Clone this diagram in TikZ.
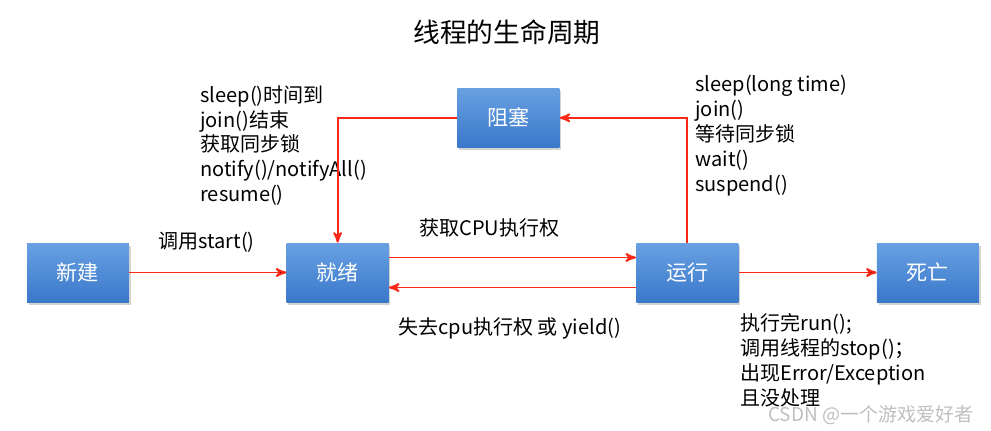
\documentclass[tikz,border=0pt]{standalone}
\usepackage{fontspec}
\setmainfont{Noto Sans CJK SC}
\usepackage{tikz}
\usetikzlibrary{arrows,shadows,positioning}
\definecolor{boxtop}{RGB}{104,160,226}
\definecolor{boxbot}{RGB}{58,120,202}
\definecolor{arrowred}{RGB}{250,40,22}
\tikzset{>=stealth'}
\tikzset{state node/.style={rectangle,top color=boxtop,bottom color=boxbot,draw=none,text=white,minimum width=2.04cm,minimum height=1.18cm,inner sep=0pt,font=\fontsize{12}{14}\selectfont,drop shadow={shadow xshift=1pt,shadow yshift=-1.5pt,opacity=0.35}},
            note/.style={anchor=north west,align=left,inner sep=0pt,font=\fontsize{11.4}{14.2}\selectfont},
            red line/.style={draw=arrowred,line width=1.1pt}
            }

\begin{document}
\begin{tikzpicture}[x=0.02cm,y=-0.02cm]
    \useasboundingbox (0,0) rectangle (991,430);

    \node[font=\fontsize{15.2}{18}\selectfont] (title) at (507,32) {线程的生命周期};

    \node[state node] (new) at (78,272.5) {新建};
    \node[state node] (ready) [right = 3.14cm of new] {就绪};
    \node[state node] (run) [right = 4.94cm of ready] {运行};
    \node[state node] (dead) [right = 2.76cm of run] {死亡};
    \node[state node] (block) [above right = 1.9cm and 1.36cm of ready] {阻塞};

    \node[note] (start) at (158,232) {调用start()};
    \node[note] (wake) at (200,85) {sleep()时间到\\join()结束\\获取同步锁\\notify()/notifyAll()\\resume()};
    \node[note] (sleep) at (695,75) {sleep(long time)\\join()\\等待同步锁\\wait()\\suspend()};
    \node[note] (getcpu) at (419,218) {获取CPU执行权};
    \node[note] (losecpu) at (398,317) {失去cpu执行权 或 yield()};
    \node[note] (finish) at (740,313) {执行完run();\\调用线程的stop()；\\出现Error/Exception\\且没处理};
    \node[note,text=black!25,font=\fontsize{10.8}{13}\selectfont] (mark) at (768,405) {CSDN @一个游戏爱好者};

    \path[red line,->]
    (new) edge (ready)
    (run) edge (dead);

    \draw[red line,->] ([yshift=0.3cm]ready.east) -- ([yshift=0.3cm]run.west);
    \draw[red line,->] ([yshift=-0.3cm]run.west) -- ([yshift=-0.3cm]ready.east);
    \draw[red line,->] (run.north) |- (block.east);
    \draw[red line,->] (block.west) -| (ready.north);

\end{tikzpicture}
\end{document}
